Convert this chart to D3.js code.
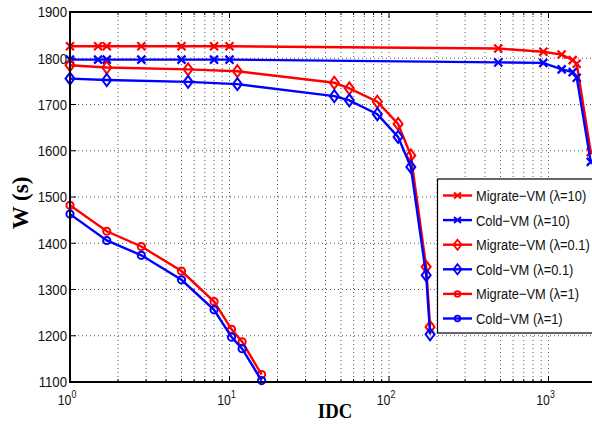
<!DOCTYPE html>
<html><head><meta charset="utf-8">
<script src="https://cdn.jsdelivr.net/npm/d3@7"></script>
<style>body{margin:0;background:#fff;overflow:hidden}svg{display:block}</style>
</head><body>
<svg id="c" width="592" height="426"></svg>
<script>
// ---- data ----
const idcL10 = [1, 1.5, 1.7, 2.8, 5, 8, 10, 484, 928, 1210, 1418, 1503, 1840];
const wMigrateL10 = [1826, 1826, 1826, 1826, 1826, 1826, 1826, 1821, 1814, 1808, 1796, 1788, 1597];
const wColdL10 = [1797, 1797, 1797, 1797, 1797, 1797, 1797, 1791, 1790, 1776, 1770, 1758, 1576];
const idcL01 = [1, 1.7, 5.5, 11.2, 45.4, 56.4, 84.5, 114, 137, 171, 181];
const wMigrateL01 = [1785, 1780, 1776, 1772, 1747, 1735, 1706, 1658, 1590, 1349, 1219];
const wColdL01 = [1756, 1753, 1749, 1744, 1718, 1709, 1679, 1630, 1565, 1331, 1203];
const idcL1 = [1, 1.7, 2.8, 5, 8, 10.3, 12, 15.9];
const wMigrateL1 = [1482, 1426, 1393, 1340, 1274, 1214, 1187, 1116];
const wColdL1 = [1463, 1406, 1374, 1321, 1256, 1197, 1172, 1103];
const yTicks = [1100, 1200, 1300, 1400, 1500, 1600, 1700, 1800, 1900];
const xMajor = [1, 10, 100, 1000];
const xLabels = ["0", "1", "2", "3"];
const seriesNames = ["Migrate\u2212VM (\u03bb=10)", "Cold\u2212VM (\u03bb=10)", "Migrate\u2212VM (\u03bb=0.1)", "Cold\u2212VM (\u03bb=0.1)", "Migrate\u2212VM (\u03bb=1)", "Cold\u2212VM (\u03bb=1)"];
const xTitle = "IDC", yTitle = "W (s)";

const series = [
  {name: seriesNames[0], x: idcL10, y: wMigrateL10, color: "#ff0000", mk: "x"},
  {name: seriesNames[1], x: idcL10, y: wColdL10, color: "#0000ff", mk: "x"},
  {name: seriesNames[2], x: idcL01, y: wMigrateL01, color: "#ff0000", mk: "d"},
  {name: seriesNames[3], x: idcL01, y: wColdL01, color: "#0000ff", mk: "d"},
  {name: seriesNames[4], x: idcL1, y: wMigrateL1, color: "#ff0000", mk: "o"},
  {name: seriesNames[5], x: idcL1, y: wColdL1, color: "#0000ff", mk: "o"}
];

const L = 70, T = 12, B = 382;
const x = d3.scaleLog().domain([1, 2000]).range([L, L + Math.log10(2000) * 159.5]);
const y = d3.scaleLinear().domain([1100, 1900]).range([B, T]);
const R = x(2000);
const svg = d3.select("#c");

const xGridVals = [];
for (let e = 0; e < 4; e++) for (let m = 1; m < 10; m++) { const v = m * Math.pow(10, e); if (v > 1 && v <= 2000) xGridVals.push(v); }

const grid = svg.append("g");
grid.selectAll("line.gx").data(xGridVals).join("line")
  .attr("x1", d => x(d)).attr("x2", d => x(d)).attr("y1", T).attr("y2", B)
  .attr("stroke", "#555").attr("stroke-width", 1).attr("stroke-dasharray", "1,3");
grid.selectAll("line.gy").data(yTicks.slice(1, -1)).join("line")
  .attr("x1", L).attr("x2", R).attr("y1", d => y(d)).attr("y2", d => y(d))
  .attr("stroke", "#555").attr("stroke-width", 1).attr("stroke-dasharray", "1,3");

const tk = svg.append("g").attr("stroke", "#000").attr("stroke-width", 1);
xGridVals.forEach(v => {
  const len = xMajor.includes(v) ? 6 : 3;
  tk.append("line").attr("x1", x(v)).attr("x2", x(v)).attr("y1", B).attr("y2", B - len);
  tk.append("line").attr("x1", x(v)).attr("x2", x(v)).attr("y1", T).attr("y2", T + len);
});
yTicks.forEach(v => {
  tk.append("line").attr("x1", L).attr("x2", L + 6).attr("y1", y(v)).attr("y2", y(v));
});

const plot = svg.append("g");
const line = d3.line().x(d => x(d[0])).y(d => y(d[1]));
function marker(g, mk, cx, cy, color) {
  if (mk === "x") {
    const s = 4;
    g.append("path").attr("d", `M${cx - s},${cy - s}L${cx + s},${cy + s}M${cx - s},${cy + s}L${cx + s},${cy - s}`)
      .attr("stroke", color).attr("stroke-width", 2.2).attr("fill", "none");
  } else if (mk === "d") {
    g.append("path").attr("d", `M${cx},${cy - 6}L${cx + 4.5},${cy}L${cx},${cy + 6}L${cx - 4.5},${cy}Z`)
      .attr("stroke", color).attr("stroke-width", 2).attr("fill", "none");
  } else {
    g.append("circle").attr("cx", cx).attr("cy", cy).attr("r", 3.6)
      .attr("stroke", color).attr("stroke-width", 2).attr("fill", "none");
  }
}
series.forEach(s => {
  const pts = s.x.map((v, i) => [v, s.y[i]]);
  const g = plot.append("g");
  g.append("path").attr("d", line(pts)).attr("fill", "none").attr("stroke", s.color).attr("stroke-width", 2.4);
  pts.forEach(p => marker(g, s.mk, x(p[0]), y(p[1]), s.color));
});

svg.append("path").attr("d", `M${R + 10},${T}H${L}V${B}H${R + 10}`).attr("fill", "none").attr("stroke", "#000").attr("stroke-width", 2);

// y tick labels
svg.append("g").selectAll("text").data(yTicks).join("text")
  .attr("x", 67).attr("y", d => y(d) + 5.5)
  .attr("text-anchor", "end").attr("font-family", "Liberation Sans, Arial, sans-serif").attr("font-size", 15)
  .attr("fill", "#111")
  .attr("transform", `translate(67,0) scale(0.88,1) translate(-67,0)`)
  .text(d => d);

// x tick labels
const xl = svg.append("g").attr("font-family", "Liberation Sans, Arial, sans-serif").attr("fill", "#111");
xMajor.forEach((v, i) => {
  const cx = x(v) - 3;
  const t = xl.append("text").attr("x", cx).attr("y", 405).attr("text-anchor", "middle").attr("font-size", 14)
    .attr("transform", `translate(${cx},0) scale(0.88,1) translate(${-cx},0)`);
  t.append("tspan").text("10");
  t.append("tspan").attr("dy", -7).attr("font-size", 10).text(xLabels[i]);
});

// axis titles
svg.append("text").attr("x", 335).attr("y", 418).attr("text-anchor", "middle")
  .attr("font-family", "Liberation Serif, Times New Roman, serif").attr("font-weight", "bold").attr("font-size", 22)
  .attr("transform", `translate(335,0) scale(0.85,1) translate(-335,0)`)
  .text(xTitle);
svg.append("text").attr("transform", "translate(28,203) rotate(-90)").attr("text-anchor", "middle")
  .attr("font-family", "Liberation Serif, Times New Roman, serif").attr("font-weight", "bold").attr("font-size", 23)
  .text(yTitle);

// legend
const lg = svg.append("g");
lg.append("rect").attr("x", 437.5).attr("y", 179).attr("width", 200).attr("height", 154)
  .attr("fill", "#fff").attr("stroke", "#000").attr("stroke-width", 1.2);
series.forEach((s, i) => {
  const cy = 195.5 + i * 24.6;
  lg.append("line").attr("x1", 443).attr("x2", 472).attr("y1", cy).attr("y2", cy).attr("stroke", s.color).attr("stroke-width", 2.4);
  if (s.mk === "x") {
    lg.append("path").attr("d", `M454,${cy - 3}L461,${cy + 3}M454,${cy + 3}L461,${cy - 3}`).attr("stroke", s.color).attr("stroke-width", 2);
  } else if (s.mk === "d") {
    lg.append("path").attr("d", `M457.5,${cy - 5}L461.5,${cy}L457.5,${cy + 5}L453.5,${cy}Z`).attr("stroke", s.color).attr("stroke-width", 1.8).attr("fill", "none");
  } else {
    lg.append("circle").attr("cx", 457.5).attr("cy", cy).attr("r", 2.8).attr("stroke", s.color).attr("stroke-width", 1.8).attr("fill", "none");
  }
  lg.append("text").attr("x", 476).attr("y", cy + 5.5).attr("font-family", "Liberation Sans, Arial, sans-serif").attr("font-size", 15)
    .attr("transform", `translate(476,0) scale(0.86,1) translate(-476,0)`)
    .attr("fill", "#111").text(s.name);
});
</script>
</body></html>
